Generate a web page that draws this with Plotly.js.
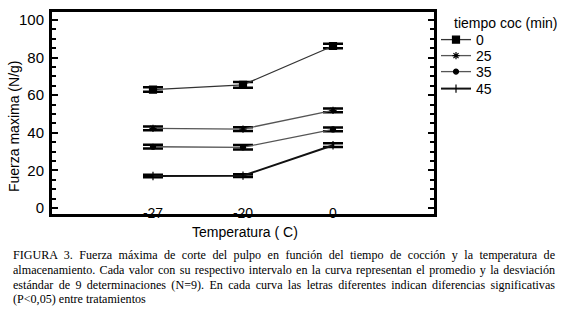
<!DOCTYPE html>
<html><head><meta charset="utf-8">
<script src="https://cdn.plot.ly/plotly-3.0.1.min.js"></script>
<style>
html,body{margin:0;padding:0;background:#fff;}
#wrap{position:relative;width:573px;height:316px;overflow:hidden;}
#plot{position:absolute;left:0;top:0;width:573px;height:316px;}
#cap{position:absolute;left:13px;top:248px;width:542px;font-family:"Liberation Serif","Times New Roman",serif;font-size:12.1px;line-height:14.8px;text-align:justify;color:#000;}
</style></head>
<body><div id="wrap"><div id="plot"></div>
<div id="cap">FIGURA 3. Fuerza máxima de corte del pulpo en función del tiempo de cocción y la temperatura de almacenamiento. Cada valor con su respectivo intervalo en la curva representan el promedio y la desviación estándar de 9 determinaciones (N=9). En cada curva las letras diferentes indican diferencias significativas (P&lt;0,05) entre tratamientos</div></div>
<script>
const temperaturas = ["-27", "-20", "0"];
const tiempos = ["0", "25", "35", "45"];
const fuerza0 = [63, 65.5, 86.2];
const fuerza25 = [42.4, 42, 52];
const fuerza35 = [32.6, 32.3, 41.8];
const fuerza45 = [17, 17.2, 33.4];
const err0 = [1.2, 1.5, 1.2];
const err25 = [1.0, 1.0, 1.0];
const err35 = [1.0, 1.2, 1.0];
const err45 = [0.7, 0.7, 1.0];

const series = [
  {name: tiempos[0], y: fuerza0, e: err0, sym: "square", size: 7, col: "#333", w: 1.3},
  {name: tiempos[1], y: fuerza25, e: err25, sym: "asterisk-open", size: 6, col: "#555", w: 1.3},
  {name: tiempos[2], y: fuerza35, e: err35, sym: "circle", size: 5, col: "#555", w: 1.3},
  {name: tiempos[3], y: fuerza45, e: err45, sym: "line-ns-open", size: 6, col: "#111", w: 2}
];
const legendNames = ["legend", "legend2", "legend3", "legend4"];
const legendRows = [40, 56, 72, 89];
const traces = series.map((s, i) => ({
  type: "scatter", mode: "lines+markers", name: s.name, legend: legendNames[i],
  x: temperaturas, y: s.y,
  line: {color: s.col, width: s.w},
  marker: {symbol: s.sym, size: s.size, color: "#000", line: {color: "#000", width: 1.2}},
  error_y: {type: "data", array: s.e, visible: true, color: "#000", thickness: 2.5, width: 10}
}));

const layout = {
  width: 573, height: 316,
  margin: {l: 52, r: 139, t: 12, b: 102},
  paper_bgcolor: "#fff", plot_bgcolor: "#fff",
  font: {family: "Liberation Sans, Arial, sans-serif", size: 14, color: "#000"},
  showlegend: true,
  xaxis: {type: "category", range: [-1.122, 3.122], showline: true, linecolor: "#000", linewidth: 3,
    mirror: true, ticks: "", showgrid: false, zeroline: false, ticklabelstandoff: -16,
    tickfont: {size: 14}},
  yaxis: {range: [-3.2, 104.3], showline: true, linecolor: "#000", linewidth: 3, mirror: "allticks",
    ticks: "inside", ticklen: 6, tickwidth: 2, tickcolor: "#000", dtick: 20, tick0: 0,
    minor: {dtick: 5, ticks: "inside", ticklen: 4, tickwidth: 2, tickcolor: "#000"},
    showgrid: false, zeroline: false, tickfont: {size: 15}, ticklabelstandoff: 2},
  annotations: [
    {text: "Fuerza maxima (N/g)", textangle: -90, xref: "paper", yref: "paper",
     x: -38/382, y: (214-127)/202, xanchor: "center", yanchor: "middle", showarrow: false, font: {size: 14}},
    {text: "Temperatura ( C)", xref: "paper", yref: "paper", x: (245-52)/382, y: (214-232)/202,
     xanchor: "center", yanchor: "middle", showarrow: false, font: {size: 14}},
    {text: "tiempo coc (min)", xref: "paper", yref: "paper", x: (452-52)/382, y: (214-23)/202,
     xanchor: "left", yanchor: "middle", showarrow: false, font: {size: 14}}
  ]
};
legendNames.forEach((ln, i) => {
  layout[ln] = {x: (436-52)/382, y: (214-legendRows[i])/202, xanchor: "left", yanchor: "middle",
    font: {size: 14}, bgcolor: "rgba(0,0,0,0)", itemwidth: 30, borderwidth: 0};
});
Plotly.newPlot("plot", traces, layout, {staticPlot: true, displayModeBar: false});
</script></body></html>
